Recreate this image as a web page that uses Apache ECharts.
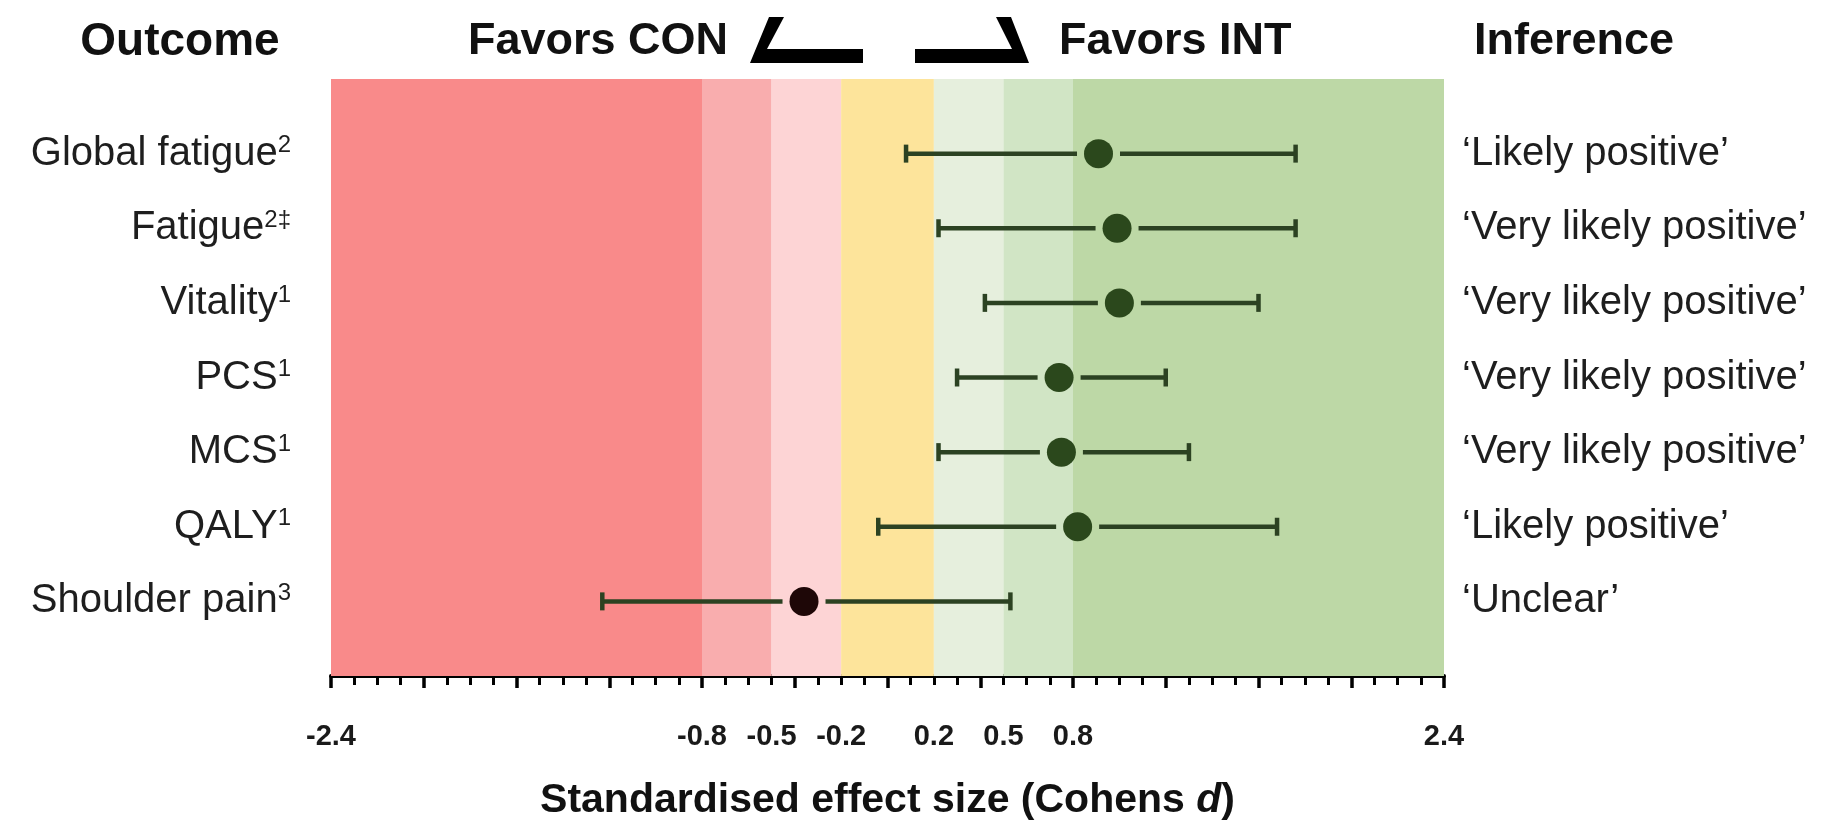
<!DOCTYPE html>
<html>
<head>
<meta charset="utf-8">
<script src="https://cdn.jsdelivr.net/npm/echarts@6/dist/echarts.min.js"></script>
<style>
  html, body { margin: 0; padding: 0; background: #ffffff; }
  #chart { width: 1823px; height: 833px; }
</style>
</head>
<body>
<div id="chart"></div>
<script>
// ---- data ----
var outcomes = ['Global fatigue', 'Fatigue', 'Vitality', 'PCS', 'MCS', 'QALY', 'Shoulder pain'];
var superscripts = ['2', '2\u2021', '1', '1', '1', '1', '3'];
var inferences = ['\u2018Likely positive\u2019', '\u2018Very likely positive\u2019', '\u2018Very likely positive\u2019',
                  '\u2018Very likely positive\u2019', '\u2018Very likely positive\u2019', '\u2018Likely positive\u2019', '\u2018Unclear\u2019'];
var effectMean  = [0.91, 0.99, 1.00, 0.74, 0.75, 0.82, -0.36];
var effectLower = [0.08, 0.22, 0.42, 0.30, 0.22, -0.04, -1.23];
var effectUpper = [1.76, 1.76, 1.60, 1.20, 1.30, 1.68, 0.53];
var bandEdges = [-2.4, -0.8, -0.5, -0.2, 0.2, 0.5, 0.8, 2.4];
var tickLabelValues = [-2.4, -0.8, -0.5, -0.2, 0.2, 0.5, 0.8, 2.4];
var axisTitle = 'Standardised effect size (Cohens ';
var axisTitleItalic = 'd';
var headers = { outcome: 'Outcome', con: 'Favors CON', int: 'Favors INT', inference: 'Inference' };

// ---- styles ----
var FONT = "'Liberation Sans', Arial, Helvetica, sans-serif";
var bandColors = ['#f98a8a', '#f9adae', '#fdd4d5', '#fde49b', '#e6efdd', '#d1e5c5', '#bdd8a6'];

var rowValues = outcomes.map(function (_, i) { return i + 1; });

var markAreaData = [];
for (var b = 0; b < bandEdges.length - 1; b++) {
  markAreaData.push([
    { xAxis: bandEdges[b], itemStyle: { color: bandColors[b] } },
    { xAxis: bandEdges[b + 1] }
  ]);
}

var seriesData = outcomes.map(function (_, i) {
  return [i + 1, effectLower[i], effectMean[i], effectUpper[i]];
});

var chart = echarts.init(document.getElementById('chart'), null, { renderer: 'canvas' });

var R = 14.5, GAP = 7, CAP = 9, LW = 4.5;

function renderItem(params, api) {
  var row = api.value(0);
  var lo = api.coord([api.value(1), row]);
  var mid = api.coord([api.value(2), row]);
  var hi = api.coord([api.value(3), row]);
  var positive = api.value(2) >= 0;
  var lineStyle = { stroke: 'rgb(44,66,34)', lineWidth: LW, blend: 'multiply' };
  return {
    type: 'group',
    children: [
      { type: 'line', shape: { x1: lo[0], y1: lo[1], x2: mid[0] - R - GAP, y2: mid[1] }, style: lineStyle },
      { type: 'line', shape: { x1: mid[0] + R + GAP, y1: mid[1], x2: hi[0], y2: hi[1] }, style: lineStyle },
      { type: 'line', shape: { x1: lo[0], y1: lo[1] - CAP, x2: lo[0], y2: lo[1] + CAP }, style: lineStyle },
      { type: 'line', shape: { x1: hi[0], y1: hi[1] - CAP, x2: hi[0], y2: hi[1] + CAP }, style: lineStyle },
      { type: 'circle', shape: { cx: mid[0], cy: mid[1], r: R }, style: { fill: positive ? '#2b481c' : '#1e0707' } }
    ]
  };
}

function labelRich(size) {
  return {
    n: { fontSize: size, fontFamily: FONT, color: '#1e1e1e' },
    s: { fontSize: 24, fontFamily: FONT, color: '#1e1e1e', verticalAlign: 'top', padding: [0, 0, 14, 0] }
  };
}

var option = {
  backgroundColor: '#ffffff',
  animation: false,
  grid: { left: 331, right: 379, top: 79, bottom: 157, containLabel: false },
  xAxis: {
    type: 'value',
    min: -2.4,
    max: 2.4,
    interval: 0.4,
    splitLine: { show: false },
    axisLine: { show: true, onZero: false, lineStyle: { color: '#000000', width: 4 } },
    axisTick: { show: true, length: 12, lineStyle: { color: '#000000', width: 3.5 } },
    minorTick: { show: true, splitNumber: 4, length: 9, lineStyle: { color: '#000000', width: 3 } },
    axisLabel: {
      show: true,
      customValues: tickLabelValues,
      margin: 46,
      fontSize: 29,
      fontWeight: 'bold',
      fontFamily: FONT,
      color: '#1a1a1a',
      formatter: function (v) { return String(Math.round(v * 10) / 10); }
    },
    name: '{b|' + axisTitle + '}{i|' + axisTitleItalic + '}{b|)}',
    nameLocation: 'middle',
    nameGap: 104,
    nameTextStyle: {
      rich: {
        b: { fontSize: 41, fontWeight: 'bold', fontFamily: FONT, color: '#111111' },
        i: { fontSize: 41, fontWeight: 'bold', fontStyle: 'italic', fontFamily: FONT, color: '#111111' }
      }
    }
  },
  yAxis: [
    {
      type: 'value',
      min: 0,
      max: 8,
      inverse: true,
      position: 'left',
      splitLine: { show: false },
      axisLine: { show: false },
      axisTick: { show: false },
      axisLabel: {
        customValues: rowValues,
        margin: 40,
        align: 'right',
        formatter: function (v) {
          var i = Math.round(v) - 1;
          return '{n|' + outcomes[i] + '}{s|' + superscripts[i] + '}';
        },
        rich: labelRich(40)
      }
    },
    {
      type: 'value',
      min: 0,
      max: 8,
      inverse: true,
      position: 'right',
      splitLine: { show: false },
      axisLine: { show: false },
      axisTick: { show: false },
      axisLabel: {
        customValues: rowValues,
        margin: 18,
        align: 'left',
        fontSize: 40,
        fontFamily: FONT,
        color: '#1e1e1e',
        formatter: function (v) { return inferences[Math.round(v) - 1]; }
      }
    }
  ],
  graphic: [
    { type: 'text', x: 180, y: 42, style: { text: headers.outcome, font: 'bold 46px ' + FONT, fill: '#111', align: 'center', verticalAlign: 'middle' } },
    { type: 'text', x: 728, y: 42, style: { text: headers.con, font: 'bold 45px ' + FONT, fill: '#111', align: 'right', verticalAlign: 'middle' } },
    { type: 'text', x: 1059, y: 42, style: { text: headers.int, font: 'bold 45px ' + FONT, fill: '#111', align: 'left', verticalAlign: 'middle' } },
    { type: 'text', x: 1474, y: 42, style: { text: headers.inference, font: 'bold 45px ' + FONT, fill: '#111', align: 'left', verticalAlign: 'middle' } },
    { type: 'polygon', shape: { points: [[769, 17], [784, 17], [767, 49], [863, 49], [863, 63], [750, 63]] }, style: { fill: '#000' } },
    { type: 'polygon', shape: { points: [[915, 49], [1012, 49], [996, 17], [1011, 17], [1029, 63], [915, 63]] }, style: { fill: '#000' } }
  ],
  series: [
    {
      type: 'custom',
      xAxisIndex: 0,
      yAxisIndex: 0,
      data: seriesData,
      encode: { x: [1, 2, 3], y: 0 },
      renderItem: renderItem,
      silent: true,
      z: 5,
      markArea: {
        silent: true,
        z: 1,
        data: markAreaData
      }
    }
  ]
};

chart.setOption(option);
</script>
</body>
</html>
